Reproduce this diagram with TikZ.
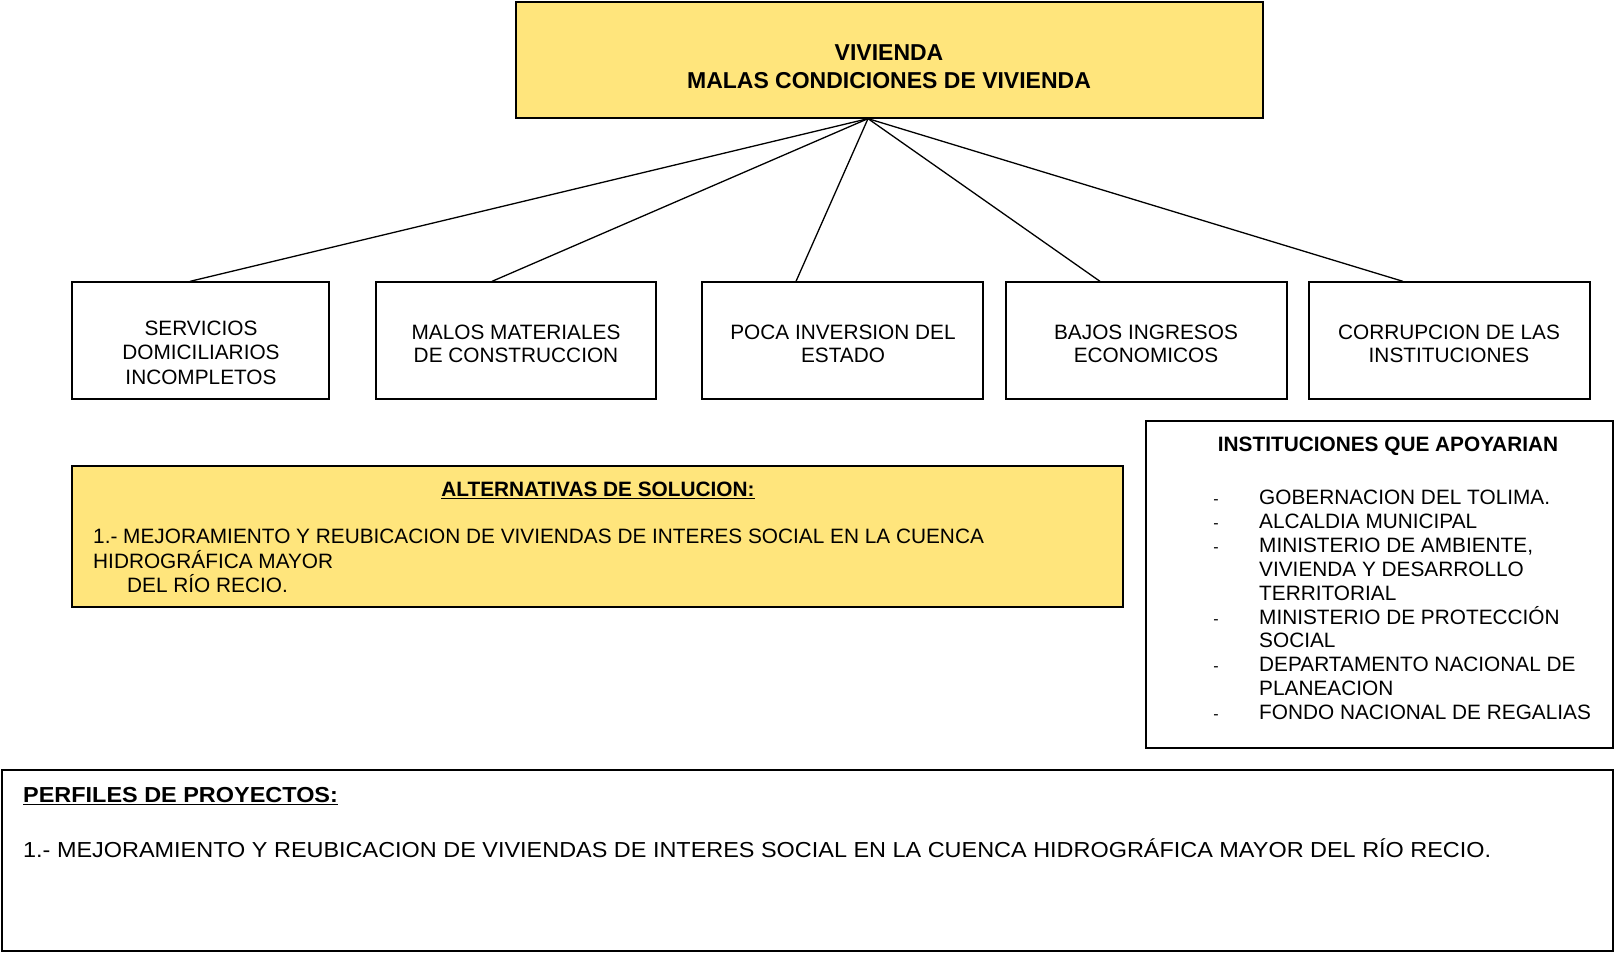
\documentclass[tikz,border=0pt]{standalone}
\usepackage{fontspec}
\setmainfont{Liberation Sans}
\newfontfamily\anchafont[FakeStretch=1.08]{Liberation Sans}
\definecolor{amarillo}{RGB}{255,229,124}

\tikzset{
  caja/.style={draw, line width=1.3pt, inner sep=0pt},
  cajaam/.style={caja, fill=amarillo},
  linea/.style={line width=1.3pt},
  txt/.style={inner sep=0pt, anchor=base, font=\fontsize{20.8}{24}\selectfont},
  txtl/.style={txt, anchor=base west},
  btxt/.style={txt, font=\fontsize{20.8}{24}\selectfont\bfseries},
  titulo/.style={txt, font=\fontsize{23}{27}\selectfont\bfseries},
  ancho/.style={inner sep=0pt, anchor=base west, font=\anchafont\fontsize{21.7}{25}\selectfont}
}

\begin{document}
\begin{tikzpicture}[x=1pt,y=-1pt]
\useasboundingbox (0,0) rectangle (1614,953);

% problema central
\node[cajaam, minimum width=747, minimum height=116] (prob) at (889.5,60) {};
\node[titulo] (prob1) at (889,60.75) {VIVIENDA};
\node[titulo] (prob2) at (889,88.25) {MALAS CONDICIONES DE VIVIENDA};

% causas
\node[caja, minimum width=257, minimum height=117] (c1) at (200.5,340.5) {};
\node[caja, minimum width=280, minimum height=117] (c2) at (516,340.5) {};
\node[caja, minimum width=281, minimum height=117] (c3) at (842.5,340.5) {};
\node[caja, minimum width=281, minimum height=117] (c4) at (1146.5,340.5) {};
\node[caja, minimum width=281, minimum height=117] (c5) at (1449.5,340.5) {};

\node[txt] (c1a) at (201,335.5) {SERVICIOS};
\node[txt] (c1b) at (201,359.5) {DOMICILIARIOS};
\node[txt] (c1c) at (201,384.5) {INCOMPLETOS};
\node[txt] (c2a) at (516,339) {MALOS MATERIALES};
\node[txt] (c2b) at (516,362.5) {DE CONSTRUCCION};
\node[txt] (c3a) at (843,339) {POCA INVERSION DEL};
\node[txt] (c3b) at (843,362.5) {ESTADO};
\node[txt] (c4a) at (1146,339) {BAJOS INGRESOS};
\node[txt] (c4b) at (1146,362.5) {ECONOMICOS};
\node[txt] (c5a) at (1449,339) {CORRUPCION DE LAS};
\node[txt] (c5b) at (1449,362.5) {INSTITUCIONES};

\coordinate (hub) at ([xshift=-21.5pt]prob.south);
\draw[linea] (hub) -- ([xshift=-10.5pt]c1.north);
\draw[linea] (hub) -- ([xshift=-24pt]c2.north);
\draw[linea] (hub) -- ([xshift=-46.5pt]c3.north);
\draw[linea] (hub) -- ([xshift=-46.5pt]c4.north);
\draw[linea] (hub) -- ([xshift=-46.5pt]c5.north);

% alternativas
\node[cajaam, minimum width=1051, minimum height=141] (alt) at (597.5,536.5) {};
\node[btxt] (alt0) at (598,496.5) {\underline{ALTERNATIVAS DE SOLUCION:}};
\node[txtl] (alt1) at (93,543.5) {1.- MEJORAMIENTO Y REUBICACION DE VIVIENDAS DE INTERES SOCIAL EN LA CUENCA};
\node[txtl] (alt2) at (93,568) {HIDROGRÁFICA MAYOR};
\node[txtl] (alt3) at (127,592) {DEL RÍO RECIO.};

% instituciones
\node[caja, minimum width=467, minimum height=327] (inst) at (1379.5,584.5) {};
\node[btxt] (inst0) at (1388,451.5) {INSTITUCIONES QUE APOYARIAN};
\foreach \i/\t in {0/GOBERNACION DEL TOLIMA., 1/ALCALDIA MUNICIPAL,
    2/{MINISTERIO DE AMBIENTE,}, 3/VIVIENDA Y DESARROLLO, 4/TERRITORIAL,
    5/MINISTERIO DE PROTECCIÓN, 6/SOCIAL, 7/DEPARTAMENTO NACIONAL DE,
    8/PLANEACION, 9/FONDO NACIONAL DE REGALIAS}
  \node[txtl] (inst\i) at (1259,504.5+23.9*\i) {\t};
\foreach \i in {0,1,2,5,7,9}
  \node[txt, font=\fontsize{16}{18}\selectfont] (guion\i) at (1216,504.5+23.9*\i) {-};

% perfiles
\node[caja, minimum width=1611, minimum height=181] (perf) at (807.5,860.5) {};
\node[ancho] (perf0) at (23,802.5) {\bfseries\underline{PERFILES DE PROYECTOS:}};
\node[ancho] (perf1) at (23,857) {1.- MEJORAMIENTO Y REUBICACION DE VIVIENDAS DE INTERES SOCIAL EN LA CUENCA HIDROGRÁFICA MAYOR DEL RÍO RECIO.};

\end{tikzpicture}
\end{document}
